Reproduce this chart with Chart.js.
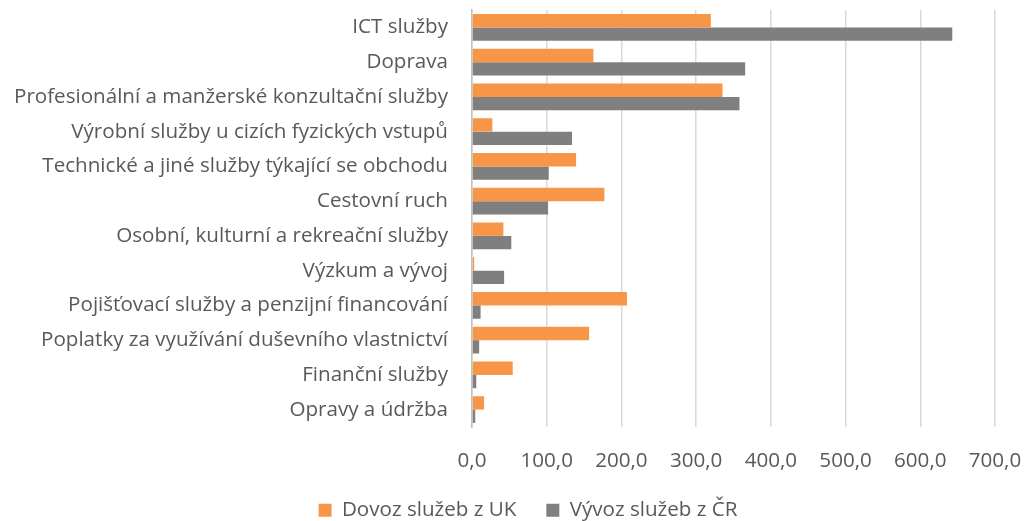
<!DOCTYPE html>
<html>
<head>
<meta charset="utf-8">
<script src="https://cdn.jsdelivr.net/npm/chart.js@4/dist/chart.umd.min.js"></script>
<style>
  html, body { margin: 0; padding: 0; background: #ffffff; }
  #wrap { width: 1025px; height: 521px; position: relative; }
</style>
</head>
<body>
<div id="wrap"><canvas id="chart"></canvas></div>
<script>
// ─── Data ───────────────────────────────────────
const categories = [
    "ICT služby",
    "Doprava",
    "Profesionální a manžerské konzultační služby",
    "Výrobní služby u cizích fyzických vstupů",
    "Technické a jiné služby týkající se obchodu",
    "Cestovní ruch",
    "Osobní, kulturní a rekreační služby",
    "Výzkum a vývoj",
    "Pojišťovací služby a penzijní financování",
    "Poplatky za využívání duševního vlastnictví",
    "Finanční služby",
    "Opravy a údržba"
];
const dovozUK  = [319.7, 162.5, 335.3, 27.2, 139.3, 177.2, 42.0, 2.9, 207.4, 156.7, 54.5, 16.2];
const vyvozCR  = [642.8, 365.6, 358.0, 133.9, 102.7, 101.8, 52.6, 43.0, 11.5, 9.6, 5.7, 4.3];
const seriesNames = ["Dovoz služeb z UK", "Vývoz služeb z ČR"];
const xTicks = [0, 100, 200, 300, 400, 500, 600, 700];

// ─── Style ──────────────────────────────────────
const FONT = "Open Sans";
const TEXT = "#595959";

// size the font so the longest category label is as wide as in the original
function fitFontSize() {
    const ctx = document.createElement("canvas").getContext("2d");
    ctx.font = `100px "${FONT}"`;
    const w = ctx.measureText(categories[2]).width;
    return Math.round(100 * 435 / w * 10) / 10;
}
const FS = fitFontSize();

const PLOT_LEFT   = 472;
const PLOT_BOTTOM = 427;
const LEGEND_PAD  = 30;
const LEGEND_H    = 44;
const LEGEND_TOP  = 470;   // items sit at LEGEND_TOP + LEGEND_PAD
const LEGEND_MID  = 528;

// legend: wide gaps between items, short box, placed under the plot like in Excel
const legendPlacePlugin = {
    id: "legendPlace",
    afterInit(chart) {
        const lg = chart.legend;
        if (!lg) return;
        const fit = lg.fit;
        lg.fit = function () { fit.call(this); this.height = LEGEND_H; };
    },
    afterLayout(chart) {
        const lg = chart.legend;
        if (!lg) return;
        const dx = LEGEND_MID - (lg.left + lg.right) / 2;
        lg.left += dx;
        lg.right += dx;
        lg.top = LEGEND_TOP;
        lg.bottom = chart.height;
    }
};

// ─── Chart ──────────────────────────────────────
new Chart(document.getElementById("chart"), {
    type: "bar",
    data: {
        labels: categories,
        datasets: [
            { label: seriesNames[0], data: dovozUK, backgroundColor: "#F79646", borderWidth: 0 },
            { label: seriesNames[1], data: vyvozCR, backgroundColor: "#7F7F7F", borderWidth: 0 }
        ]
    },
    plugins: [legendPlacePlugin],
    options: {
        indexAxis: "y",
        responsive: true,
        maintainAspectRatio: false,
        animation: false,
        categoryPercentage: 0.77,
        barPercentage: 1.0,
        layout: { padding: { top: 10, right: 30, bottom: 0, left: 0 } },
        plugins: {
            tooltip: { enabled: false },
            legend: {
                position: "bottom",
                labels: {
                    color: TEXT,
                    font: { family: FONT, size: FS },
                    boxWidth: 13,
                    boxHeight: 13,
                    padding: LEGEND_PAD
                }
            }
        },
        scales: {
            x: {
                min: 0,
                max: xTicks[xTicks.length - 1],
                afterBuildTicks: (axis) => { axis.ticks = xTicks.map(v => ({ value: v })); },
                ticks: {
                    color: TEXT,
                    font: { family: FONT, size: FS },
                    padding: 22,
                    callback: (v) => Number(v).toFixed(1).replace(".", ",")
                },
                grid: { color: "#D9D9D9", lineWidth: 1.5, drawTicks: false },
                border: { display: false },
                afterFit: (axis) => {
                    axis.height = 521 - LEGEND_H - PLOT_BOTTOM;
                    axis.paddingLeft = 0;
                    axis.paddingRight = 0;
                }
            },
            y: {
                ticks: {
                    color: TEXT,
                    font: { family: FONT, size: FS },
                    padding: 24
                },
                grid: { display: false, drawTicks: false },
                border: { display: true, color: "#BFBFBF", width: 1.5 },
                afterFit: (axis) => {
                    axis.width = PLOT_LEFT;
                    axis.paddingTop = 0;
                    axis.paddingBottom = 0;
                }
            }
        }
    }
});
</script>
</body>
</html>
